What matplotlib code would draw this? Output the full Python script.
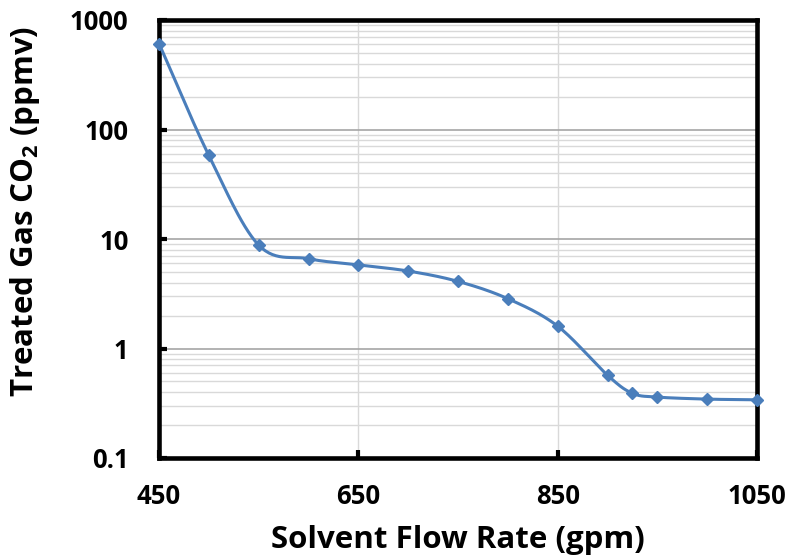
import numpy as np
import matplotlib
matplotlib.use("Agg")
import matplotlib.pyplot as plt
from matplotlib.ticker import LogLocator, FixedLocator, NullFormatter

flow_gpm = [450, 500, 550, 600, 650, 700, 750, 800, 850, 900, 925, 950, 1000, 1050]
co2_ppmv = [610, 58, 8.8, 6.6, 5.8, 5.1, 4.1, 2.85, 1.6, 0.57, 0.39, 0.36, 0.345, 0.34]
x_ticks = [450, 650, 850, 1050]
y_ticks = [0.1, 1, 10, 100, 1000]
y_tick_labels = ["0.1", "1", "10", "100", "1000"]

plt.rcParams['font.family'] = ['Open Sans', 'DejaVu Sans']
plt.rcParams['mathtext.fontset'] = 'custom'
plt.rcParams['mathtext.rm'] = 'Open Sans'
plt.rcParams['mathtext.bf'] = 'Open Sans:bold'
color = '#4A7EBB'

W, H = 790, 556
fig = plt.figure(figsize=(W/100, H/100), dpi=100)
L, R, T, B = 159, 757, 20, 458
ax = fig.add_axes([L/W, 1 - B/H, (R-L)/W, (B-T)/H])

# smooth (Catmull-Rom) path through the points in display space (x, log y)
xs = np.array(flow_gpm, float)
ys = np.log10(np.array(co2_ppmv, float))
px = np.concatenate([[2*xs[0]-xs[1]], xs, [2*xs[-1]-xs[-2]]])
py = np.concatenate([[2*ys[0]-ys[1]], ys, [2*ys[-1]-ys[-2]]])
cx, cy = [], []
t = np.linspace(0, 1, 30)
for i in range(1, len(px)-2):
    p0, p1, p2, p3 = [np.array([px[j], py[j]]) for j in (i-1, i, i+1, i+2)]
    tt = t[:, None]
    seg = 0.5*((2*p1) + (-p0+p2)*tt + (2*p0-5*p1+4*p2-p3)*tt**2 + (-p0+3*p1-3*p2+p3)*tt**3)
    cx.extend(seg[:, 0]); cy.extend(seg[:, 1])
ax.plot(cx, 10**np.array(cy), color=color, lw=2.2, zorder=3, clip_on=False)
ax.plot(flow_gpm, co2_ppmv, linestyle='none', marker='D', ms=6.3, color=color, zorder=4, clip_on=False)

ax.set_yscale('log')
ax.set_ylim(0.1, 1000)
ax.set_xlim(450, 1050)
ax.xaxis.set_major_locator(FixedLocator(x_ticks))
ax.set_xticklabels([str(v) for v in x_ticks])
ax.yaxis.set_major_locator(FixedLocator(y_ticks))
ax.set_yticklabels(y_tick_labels)
ax.yaxis.set_minor_locator(LogLocator(base=10, subs=np.arange(2, 10), numticks=20))
ax.yaxis.set_minor_formatter(NullFormatter())

ax.grid(True, which='major', axis='y', color='#A6A6A6', lw=1.2, zorder=0)
ax.grid(True, which='minor', axis='y', color='#D9D9D9', lw=1.0, zorder=0)
ax.grid(True, which='major', axis='x', color='#D9D9D9', lw=1.0, zorder=0)
ax.set_axisbelow(True)

for s in ax.spines.values():
    s.set_linewidth(3.3)
    s.set_color('black')

ax.tick_params(axis='both', which='major', direction='in', length=6, width=3,
               labelsize=18.5)
ax.tick_params(axis='y', pad=22)
ax.tick_params(axis='x', pad=18)
ax.tick_params(axis='y', which='minor', length=0)
for lab in ax.get_xticklabels() + ax.get_yticklabels():
    lab.set_fontweight('bold')

ax.set_xlabel('Solvent Flow Rate (gpm)', fontsize=22.5, fontweight='bold')
ax.set_ylabel(r'Treated Gas CO$_\mathbf{2}$ (ppmv)', fontsize=22.5, fontweight='bold')
ax.xaxis.label.set_va('center')
ax.yaxis.label.set_va('center')
ax.xaxis.set_label_coords(0.5, (B - 540) / (B - T))
ax.yaxis.set_label_coords((25 - L) / (R - L), (B - 211) / (B - T))

fig.savefig('out.png', dpi=100)
